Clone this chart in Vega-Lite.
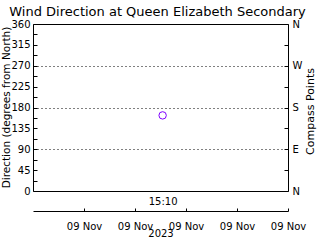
{
  "$schema": "https://vega.github.io/schema/vega-lite/v6.json",
  "width": 255,
  "height": 167,
  "autosize": {"type": "none"},
  "padding": {"left": 33, "top": 24, "right": 32, "bottom": 49},
  "background": "white",
  "title": {"text": "Wind Direction at Queen Elizabeth Secondary", "font": "DejaVu Sans", "fontSize": 13, "fontWeight": "normal", "color": "black", "offset": 0, "anchor": "middle", "dx": -3},
  "config": {
    "view": {"stroke": "black", "strokeWidth": 1},
    "font": "DejaVu Sans",
    "axis": {"labelColor": "black", "titleColor": "black", "tickColor": "black", "domainColor": "black", "labelFont": "DejaVu Sans", "titleFont": "DejaVu Sans", "labelFontSize": 10, "titleFontSize": 11, "titleFontWeight": "normal", "grid": false}
  },
  "data": {"values": [{"time": "2023-11-09T15:10:00Z", "direction": 163}]},
  "layer": [
    {
      "mark": {"type": "point", "shape": "circle", "filled": false, "size": 55, "strokeWidth": 1, "color": "#7f00ff", "opacity": 1},
      "encoding": {
        "x": {"field": "time", "type": "temporal",
          "scale": {"type": "utc", "domain": [{"year": 2023, "month": 11, "date": 9, "hours": 14, "minutes": 9, "utc": true}, {"year": 2023, "month": 11, "date": 9, "hours": 16, "minutes": 9, "utc": true}]},
          "axis": {"orient": "bottom", "offset": 20, "domain": true, "ticks": true, "tickSize": -3, "labelPadding": 13,
            "values": [{"year": 2023, "month": 11, "date": 9, "hours": 14, "minutes": 33, "utc": true}, {"year": 2023, "month": 11, "date": 9, "hours": 14, "minutes": 57, "utc": true}, {"year": 2023, "month": 11, "date": 9, "hours": 15, "minutes": 21, "utc": true}, {"year": 2023, "month": 11, "date": 9, "hours": 15, "minutes": 45, "utc": true}, {"year": 2023, "month": 11, "date": 9, "hours": 16, "minutes": 9, "utc": true}],
            "labelExpr": "'09 Nov'", "labelFlush": false, "labelOverlap": false, "title": "2023", "titlePadding": -3, "titleFontSize": 10}
        },
        "y": {"field": "direction", "type": "quantitative",
          "scale": {"domain": [0, 360], "nice": false, "zero": false},
          "axis": {"orient": "left", "domain": false, "ticks": true, "tickSize": -4, "labelPadding": 7,
            "values": [0, 22.5, 45, 67.5, 90, 112.5, 135, 157.5, 180, 202.5, 225, 247.5, 270, 292.5, 315, 337.5, 360],
            "labelExpr": "datum.value % 45 === 0 ? datum.label : ''", "labelOverlap": false, "labelFlush": false,
            "grid": true, "gridColor": "black", "gridDash": [1, 3], "gridWidth": 1,
            "gridOpacity": {"condition": {"test": "datum.value === 90 || datum.value === 180 || datum.value === 270", "value": 1}, "value": 0},
            "title": "Direction (degrees from North)", "titleFontSize": 10.5, "titleAngle": 270, "titleX": -27, "titleY": 83, "titleAlign": "center", "titleBaseline": "middle"}
        }
      }
    },
    {
      "mark": {"type": "point", "opacity": 0},
      "encoding": {
        "x": {"field": "time", "type": "temporal",
          "axis": {"orient": "bottom", "offset": 0, "domain": false, "ticks": false, "labelPadding": 5,
            "values": [{"year": 2023, "month": 11, "date": 9, "hours": 15, "minutes": 10, "utc": true}],
            "labelExpr": "'15:10'", "labelFlush": false, "title": null}
        },
        "y": {"field": "direction", "type": "quantitative",
          "axis": {"orient": "right", "domain": false, "ticks": true, "tickSize": -4, "labelPadding": 8,
            "values": [0, 45, 90, 135, 180, 225, 270, 315, 360],
            "labelExpr": "datum.value === 0 || datum.value === 360 ? 'N' : datum.value === 90 ? 'E' : datum.value === 180 ? 'S' : datum.value === 270 ? 'W' : ''",
            "labelOverlap": false, "labelFlush": false,
            "title": "Compass Points", "titleAngle": 270, "titleX": 22, "titleY": 87, "titleAlign": "center", "titleBaseline": "middle"}
        }
      }
    }
  ],
  "resolve": {"axis": {"x": "independent", "y": "independent"}}
}
